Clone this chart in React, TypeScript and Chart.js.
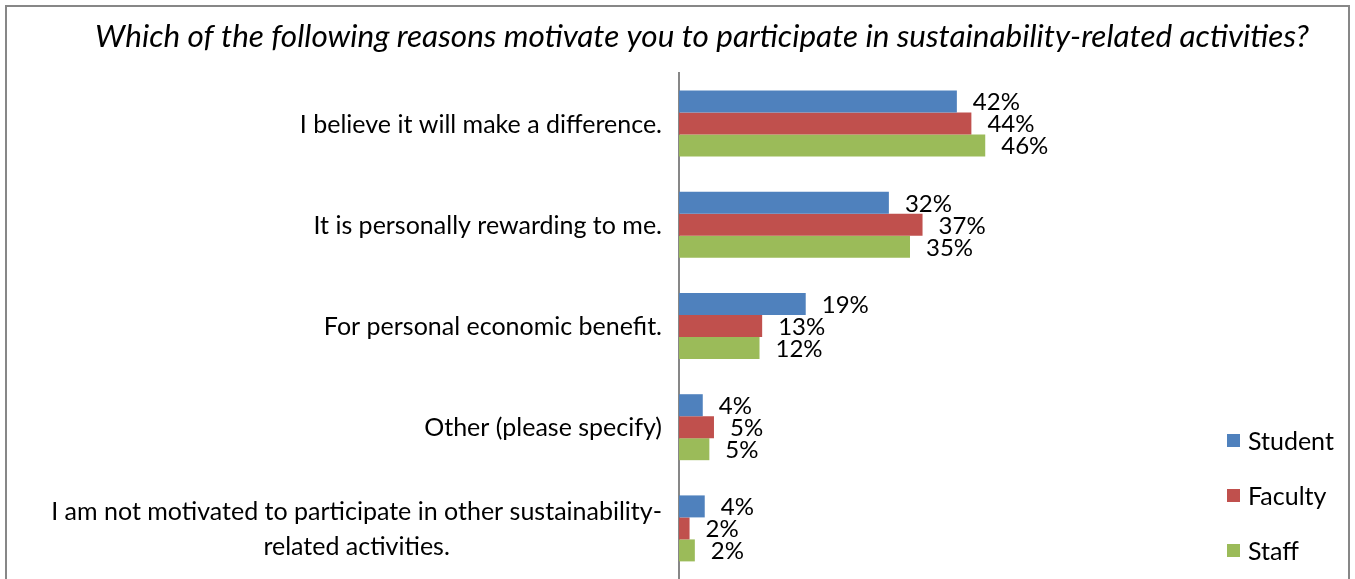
import React, { useEffect, useRef } from "react";
import { Chart, registerables } from "chart.js";

Chart.register(...registerables);

const TITLE =
  "Which of the following reasons motivate you to participate in sustainability-related activities?";

const categories: string[][] = [
  ["I believe it will make a difference."],
  ["It is personally rewarding to me."],
  ["For personal economic benefit."],
  ["Other (please specify)"],
  ["I am not motivated to participate in other sustainability-", "related activities."],
];

const seriesNames = ["Student", "Faculty", "Staff"];
const studentValues = [42.1, 31.8, 19.2, 3.6, 3.9];
const facultyValues = [44.3, 36.9, 12.6, 5.3, 1.6];
const staffValues = [46.4, 35.0, 12.2, 4.6, 2.4];
const seriesColors = ["#4F81BD", "#C0504D", "#9BBB59"];
const X_MAX = 80;

const FONT = "Lato";

const decorPlugin = {
  id: "decor",
  beforeDraw(chart: any) {
    const ctx = chart.ctx;
    ctx.save();
    ctx.fillStyle = "#ffffff";
    ctx.fillRect(0, 0, chart.width, chart.height);
    ctx.strokeStyle = "#878787";
    ctx.lineWidth = 2;
    ctx.beginPath();
    ctx.moveTo(6, chart.height + 2);
    ctx.lineTo(6, 6);
    ctx.lineTo(1349, 6);
    ctx.lineTo(1349, chart.height + 2);
    ctx.stroke();
    ctx.restore();
  },
  afterDraw(chart: any) {
    const ctx = chart.ctx;
    ctx.save();
    ctx.fillStyle = "#000000";

    // title
    ctx.font = `italic 31.5px ${FONT}`;
    ctx.textAlign = "center";
    ctx.textBaseline = "alphabetic";
    ctx.fillText(TITLE, 702, 47);

    // category labels
    const yScale = chart.scales.y;
    ctx.font = `25px ${FONT}`;
    ctx.textBaseline = "middle";
    ctx.textAlign = "center";
    const right = chart.chartArea.left - 17;
    categories.forEach((lines, i) => {
      const cy = yScale.getPixelForValue(i);
      const maxW = Math.max(...lines.map((l) => ctx.measureText(l).width));
      const cx = right - maxW / 2;
      const lh = 35;
      lines.forEach((l, j) => {
        ctx.fillText(l, cx, cy + 1 + (j - (lines.length - 1) / 2) * lh);
      });
    });

    // data labels
    ctx.font = `24px ${FONT}`;
    ctx.textAlign = "left";
    chart.data.datasets.forEach((ds: any, di: number) => {
      const meta = chart.getDatasetMeta(di);
      meta.data.forEach((bar: any, i: number) => {
        const v = ds.data[i];
        ctx.fillText(Math.round(v) + "%", bar.x + 16, bar.y + 1);
      });
    });

    // legend
    const legendY = [441, 496, 551];
    ctx.font = `25px ${FONT}`;
    chart.data.datasets.forEach((ds: any, di: number) => {
      const y = legendY[di];
      ctx.fillStyle = ds.backgroundColor;
      ctx.fillRect(1227, y - 7, 13, 13);
      ctx.fillStyle = "#000000";
      ctx.fillText(ds.label, 1248, y + 1);
    });

    ctx.restore();
  },
};

export default function App() {
  const canvasRef = useRef<HTMLCanvasElement | null>(null);

  useEffect(() => {
    if (!canvasRef.current) return;
    const seriesValues = [studentValues, facultyValues, staffValues];
    const chart = new Chart(canvasRef.current, {
      type: "bar",
      data: {
        labels: categories,
        datasets: seriesNames.map((name, i) => ({
          label: name,
          data: seriesValues[i],
          backgroundColor: seriesColors[i],
          borderWidth: 0,
          categoryPercentage: 0.652,
          barPercentage: 1,
        })),
      },
      options: {
        indexAxis: "y",
        responsive: false,
        animation: false,
        layout: {
          padding: { left: 679, top: 73, right: 1355 - (679 + 6.6 * X_MAX), bottom: 0 },
        },
        plugins: {
          legend: { display: false },
          title: { display: false },
          tooltip: { enabled: false },
        },
        scales: {
          x: {
            display: false,
            min: 0,
            max: X_MAX,
          },
          y: {
            display: true,
            ticks: { display: false },
            grid: { display: false, drawTicks: false },
            border: { display: true, color: "#878787", width: 2 },
            afterFit: (scale: any) => {
              scale.width = 0;
            },
          },
        },
      },
      plugins: [decorPlugin],
    });
    return () => chart.destroy();
  }, []);

  return (
    <div style={{ position: "fixed", left: 0, top: 0, width: 1355, height: 579, background: "#fff" }}>
      <canvas ref={canvasRef} width={1355} height={579} style={{ display: "block" }} />
    </div>
  );
}
